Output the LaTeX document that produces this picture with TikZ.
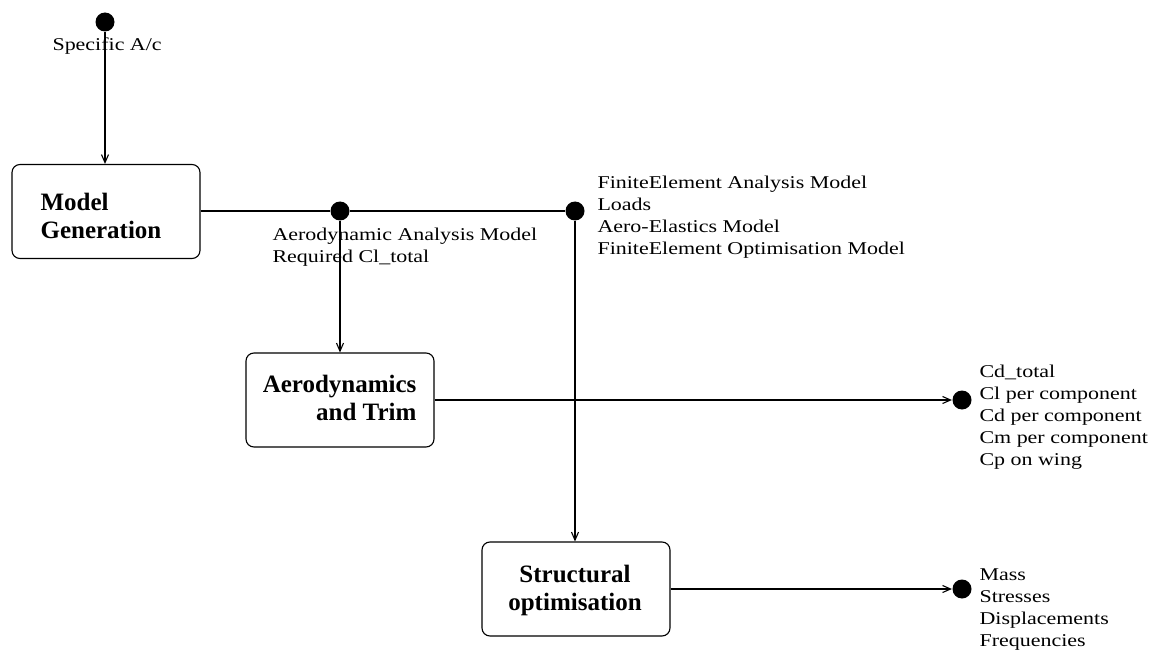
\documentclass[tikz,border=0pt]{standalone}
\usepackage{fontspec}
\setmainfont{Liberation Serif}
\newfontfamily\regf[FakeStretch=1.22]{Liberation Serif}
\usetikzlibrary{arrows.meta}
\begin{document}
\begin{tikzpicture}[x=1pt,y=-1pt,line width=1.1pt,
  dot/.style={circle,fill=black,inner sep=0pt,minimum size=19pt},
  box/.style={draw,rounded corners=8pt,line width=1.1pt,minimum width=188pt,minimum height=94pt,inner sep=0pt},
  lab/.style={font=\regf\fontsize{18}{22}\selectfont,inner sep=0pt,align=left,anchor=base west},
  btxt/.style={font=\bfseries\fontsize{25}{28}\selectfont,inner sep=0pt},
  arr/.style={-{Straight Barb[length=8pt,width=7pt]}}]
\useasboundingbox (0,0) rectangle (1160,650);
\fill[white] (0,0) rectangle (1160,650);
% boxes
\node[box] (mg) at (106,211.5) {};
\node[box] (aero) at (340,400) {};
\node[box] (st) at (576,589) {};
\node[btxt,align=left,anchor=base west] (mgt) at (40,238) {Model\\Generation};
\node[btxt,align=right,anchor=base east] (aerot) at (417,420) {Aerodynamics\\and Trim};
\node[btxt,align=center,anchor=base] (stt) at (575,610) {Structural\\optimisation};
% dots
\node[dot] (d0) at (105,22) {};
\node[dot] (d1) at (340,211) {};
\node[dot] (d2) at (575,211) {};
\node[dot] (d3) at (962,400) {};
\node[dot] (d4) at (962,589) {};
% labels
\node[lab] (l0) at (52,51) {Specific A/c};
\node[lab] (l1) at (272,262) {Aerodynamic Analysis Model\\Required Cl\_total};
\node[lab] (l2) at (597,254) {FiniteElement Analysis Model\\Loads\\Aero-Elastics Model\\FiniteElement Optimisation Model};
\node[lab] (l3) at (979,465) {Cd\_total\\Cl per component\\Cd per component\\Cm per component\\Cp on wing};
\node[lab] (l4) at (979,646) {Mass\\Stresses\\Displacements\\Frequencies};
% connectors
\draw[arr] (d0) -- (d0 |- mg.north);
\draw (mg.east |- d1) -- (d1) -- (d2);
\draw[arr] (d1) -- (aero.north);
\draw[arr] (d2) -- (d2 |- st.north);
\draw[arr] (aero.east) -- (d3);
\draw[arr] (st.east) -- (d4);
\end{tikzpicture}
\end{document}
